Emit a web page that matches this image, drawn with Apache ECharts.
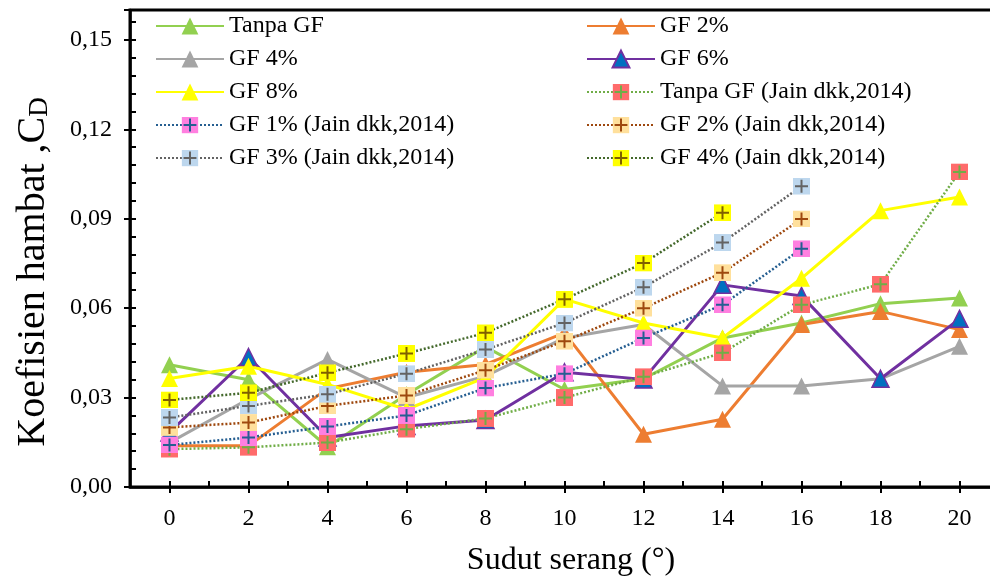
<!DOCTYPE html>
<html>
<head>
<meta charset="utf-8">
<script src="https://cdn.jsdelivr.net/npm/echarts@6/dist/echarts.min.js"></script>
<style>
html, body { margin: 0; padding: 0; background: #fff; }
#chart { width: 990px; height: 578px; }
</style>
</head>
<body>
<div id="chart"></div>
<script>
// sudut serang (deg)
const sudut = [0, 2, 4, 6, 8, 10, 12, 14, 16, 18, 20];

// hasil pengujian
const tanpaGF = [0.041, 0.036, 0.0135, 0.031, 0.047, 0.0327, 0.0363, 0.050, 0.055, 0.0615, 0.0634];
const gf2 = [0.0138, 0.0138, 0.033, 0.0385, 0.0411, 0.0517, 0.0177, 0.0227, 0.0545, 0.0589, 0.0528];
const gf4 = [0.0149, 0.0295, 0.0428, 0.030, 0.0372, 0.050, 0.0545, 0.0339, 0.0339, 0.0363, 0.0472];
const gf6 = [0.0183, 0.0436, 0.0166, 0.0205, 0.0225, 0.0385, 0.0361, 0.0678, 0.0641, 0.0363, 0.0564];
const gf8 = [0.0364, 0.0405, 0.0344, 0.026, 0.0368, 0.063, 0.055, 0.050, 0.070, 0.0927, 0.0973];

// Jain dkk, 2014
const tanpaJain = [0.0127, 0.0133, 0.0149, 0.0194, 0.023, 0.030, 0.037, 0.045, 0.0611, 0.068, 0.1057];
const gf1Jain = [0.0141, 0.0166, 0.0203, 0.024, 0.0332, 0.038, 0.050, 0.0611, 0.0799];
const gf2Jain = [0.020, 0.0216, 0.0272, 0.0307, 0.0392, 0.0489, 0.060, 0.0719, 0.0899];
const gf3Jain = [0.0233, 0.0272, 0.0311, 0.038, 0.0461, 0.055, 0.067, 0.082, 0.1009];
const gf4Jain = [0.0292, 0.0316, 0.0383, 0.0448, 0.0517, 0.063, 0.0751, 0.092];

const serif = "'Liberation Serif', 'Times New Roman', serif";

function pairs(values) {
    return values.map((v, i) => [sudut[i], v]);
}

function kotakPlus(fill, cross) {
    const svg = '<svg xmlns="http://www.w3.org/2000/svg" width="17" height="17">' +
        '<rect width="17" height="17" fill="' + fill + '"/>' +
        '<path d="M8.5 2V15M2 8.5H15" stroke="' + cross + '" stroke-width="2"/></svg>';
    return 'image://data:image/svg+xml;charset=utf-8,' + encodeURIComponent(svg);
}

function garis(name, values, color, fill) {
    return {
        name: name, type: 'line', data: pairs(values),
        symbol: 'triangle', symbolSize: 17, showAllSymbol: true,
        lineStyle: { color: color, width: 3 },
        itemStyle: { color: fill || color, borderColor: color, borderWidth: fill ? 1.5 : 0 },
        emphasis: { disabled: true }
    };
}

function titik(name, values, lineColor, fill, cross) {
    return {
        name: name, type: 'line', data: pairs(values),
        symbol: kotakPlus(fill, cross), symbolSize: 17, showAllSymbol: true,
        lineStyle: { color: lineColor, width: 2.5, type: [2, 2] },
        itemStyle: { color: fill },
        emphasis: { disabled: true }
    };
}

// posisi tick sumbu x (dekorasi)
const tickX = [];
for (let i = -1; i <= 21; i++) tickX.push(String(i));

const isMajorY = v => Math.abs(v / 0.03 - Math.round(v / 0.03)) < 1e-6;

const legendText = { fontFamily: serif, fontSize: 24, color: '#000', lineHeight: 24 };

const option = {
    animation: false,
    backgroundColor: '#fff',
    grid: {
        left: 130, top: 10, right: -9, bottom: 91,
        show: true, borderColor: '#000', borderWidth: 3,
        containLabel: false, outerBoundsMode: 'none'
    },
    legend: [{
        orient: 'vertical', left: 155, top: 14, padding: 0,
        itemWidth: 68, itemHeight: 21, itemGap: 9,
        selectedMode: false, textStyle: legendText,
        data: ['Tanpa GF', 'GF 4%', 'GF 8%', 'GF 1% (Jain dkk,2014)', 'GF 3% (Jain dkk,2014)']
    }, {
        orient: 'vertical', left: 586, top: 14, padding: 0,
        itemWidth: 68, itemHeight: 21, itemGap: 9,
        selectedMode: false, textStyle: legendText,
        data: ['GF 2%', 'GF 6%', 'Tanpa GF (Jain dkk,2014)', 'GF 2% (Jain dkk,2014)', 'GF 4% (Jain dkk,2014)']
    }],
    xAxis: [{
        type: 'value', min: -1, max: 21, interval: 1, position: 'bottom',
        axisLine: { onZero: false, lineStyle: { color: '#000', width: 2.5 } },
        axisTick: { inside: true, length: 6, lineStyle: { color: '#000', width: 2 } },
        axisLabel: {
            formatter: v => (v >= 0 && v <= 20 && v % 2 === 0) ? String(v) : '',
            fontFamily: serif, fontSize: 24, color: '#000', margin: 20
        },
        splitLine: { show: false }
    }, {
        type: 'category', data: tickX, boundaryGap: false, position: 'bottom',
        axisLine: { show: false, onZero: false },
        axisTick: {
            inside: false, length: 6, lineStyle: { color: '#000', width: 2 },
            interval: (i, v) => Number(v) >= 0 && Number(v) % 2 === 0
        },
        axisLabel: { show: false },
        splitLine: { show: false }
    }],
    yAxis: [{
        type: 'value', min: 0, max: 0.16, interval: 0.006, position: 'left',
        axisLine: { show: true, onZero: false, lineStyle: { color: '#000', width: 2.5 } },
        axisTick: { inside: true, length: 6, lineStyle: { color: '#000', width: 2 } },
        axisLabel: {
            formatter: v => isMajorY(v) && v < 0.155 ? v.toFixed(2).replace('.', ',') : '',
            fontFamily: serif, fontSize: 24, color: '#000', margin: 18
        },
        splitLine: { show: false }
    }, {
        type: 'value', min: 0, max: 0.16, interval: 0.03, position: 'left', offset: 0,
        axisLine: { show: false, onZero: false },
        axisTick: { inside: false, length: 6, lineStyle: { color: '#000', width: 2 } },
        axisLabel: { show: false },
        splitLine: { show: false }
    }],
    graphic: [{
        type: 'text', x: 571, y: 561,
        style: {
            text: 'Sudut serang (°)', fontFamily: serif, fontSize: 32,
            fill: '#000', align: 'center', verticalAlign: 'middle'
        }
    }, {
        type: 'text', x: 30, y: 272, rotation: Math.PI / 2,
        style: {
            text: '{a|Koefisien hambat ,C}{b|D}',
            align: 'center', verticalAlign: 'middle',
            rich: {
                a: { fontFamily: serif, fontSize: 40, fill: '#000', lineHeight: 46, verticalAlign: 'bottom' },
                b: { fontFamily: serif, fontSize: 27, fill: '#000', lineHeight: 27, verticalAlign: 'bottom' }
            }
        }
    }],
    series: [
        garis('Tanpa GF', tanpaGF, '#92D050'),
        garis('GF 2%', gf2, '#ED7D31'),
        garis('GF 4%', gf4, '#A5A5A5'),
        garis('GF 6%', gf6, '#7030A0', '#0070C0'),
        garis('GF 8%', gf8, '#FFFF00'),
        titik('Tanpa GF (Jain dkk,2014)', tanpaJain, '#70AD47', '#FF6B6B', '#70AD47'),
        titik('GF 1% (Jain dkk,2014)', gf1Jain, '#255E91', '#FF7FE0', '#255E91'),
        titik('GF 2% (Jain dkk,2014)', gf2Jain, '#9E480E', '#FFE09C', '#9E480E'),
        titik('GF 3% (Jain dkk,2014)', gf3Jain, '#636363', '#BDD7EE', '#636363'),
        titik('GF 4% (Jain dkk,2014)', gf4Jain, '#43682B', '#FFFF00', '#7F6000')
    ]
};

const chart = echarts.init(document.getElementById('chart'));
chart.setOption(option);
</script>
</body>
</html>
